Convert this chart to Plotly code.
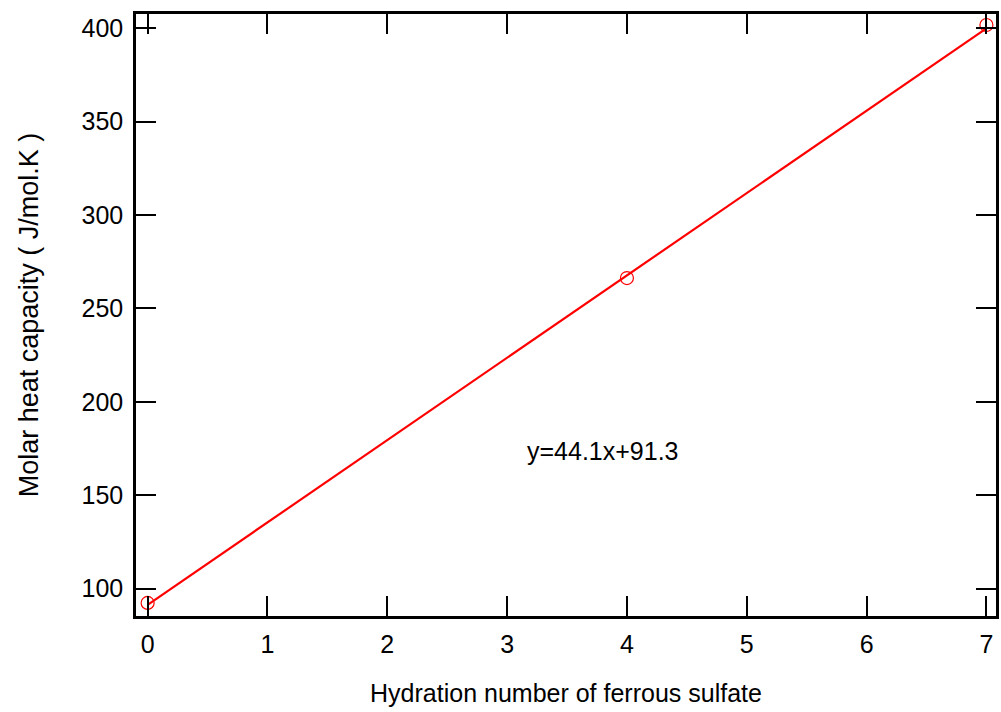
import plotly.graph_objects as go

hydration = [0, 4, 7]
heat_capacity = [92.3, 266.3, 401.8]
fit_x = [0, 7]
fit_y = [91.3, 400.0]
equation = "y=44.1x+91.3"
x_ticks = [0, 1, 2, 3, 4, 5, 6, 7]
y_ticks = [100, 150, 200, 250, 300, 350, 400]

FONT = "Liberation Sans, Arial"
fig = go.Figure()
fig.add_trace(go.Scatter(x=fit_x, y=fit_y, mode="lines",
                         line=dict(color="#ff0000", width=2.2), showlegend=False))
fig.add_trace(go.Scatter(x=hydration, y=heat_capacity, mode="markers",
                         marker=dict(symbol="circle-open", size=13, color="#ff0000",
                                     line=dict(width=1.2, color="#ff0000")),
                         showlegend=False))
fig.add_annotation(x=3.8, y=173.6, text=equation, showarrow=False,
                   font=dict(size=25, color="black", family=FONT))

axis_common = dict(showline=True, linewidth=2.5, linecolor="black", mirror="allticks",
                   ticks="inside", ticklen=20, tickwidth=2, tickcolor="black",
                   showgrid=False, zeroline=False,
                   tickfont=dict(size=25, color="black", family=FONT))

fig.update_xaxes(range=[-0.097, 7.08], tickvals=x_ticks, ticklabelstandoff=4,
                 title=dict(text="Hydration number of ferrous sulfate", standoff=28,
                            font=dict(size=25, color="black", family=FONT)),
                 **axis_common)
fig.update_yaxes(range=[85.3, 407.7], tickvals=y_ticks, ticklabelstandoff=5,
                 title=dict(text="Molar heat capacity (&nbsp;J/mol.K&nbsp;)", standoff=36,
                            font=dict(size=27, color="black", family=FONT)),
                 **axis_common)

fig.update_layout(width=1001, height=712, margin=dict(l=136, r=2, t=14, b=96),
                  plot_bgcolor="white", paper_bgcolor="white",
                  font=dict(family=FONT, color="black"))
fig.write_html("out.html")
